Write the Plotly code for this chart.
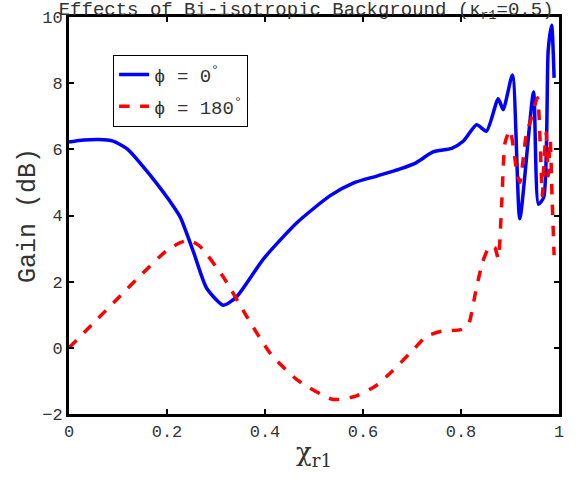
import plotly.graph_objs as go

# phi = 0 deg (solid blue)
x_phi0 = [0.0, 0.03, 0.06, 0.09, 0.12, 0.15, 0.18, 0.205, 0.227, 0.254, 0.281, 0.315,
          0.342, 0.397, 0.465, 0.533, 0.58, 0.63, 0.676, 0.709, 0.743, 0.781, 0.805,
          0.832, 0.852, 0.876, 0.886, 0.905, 0.92, 0.948, 0.958, 0.969, 0.978, 0.985, 0.99]
gain_phi0 = [6.22, 6.28, 6.3, 6.25, 6.0, 5.5, 4.95, 4.45, 3.95, 2.9, 1.8, 1.29,
             1.54, 2.69, 3.78, 4.6, 4.98, 5.2, 5.41, 5.6, 5.92, 6.03, 6.25,
             6.74, 6.55, 7.53, 7.2, 8.25, 3.9, 7.73, 4.34, 4.56, 9.0, 9.75, 8.16]

# phi = 180 deg (dashed red)
x_phi180 = [0.0, 0.05, 0.1, 0.15, 0.2, 0.227, 0.245, 0.267, 0.315, 0.363, 0.41, 0.465,
            0.539, 0.587, 0.628, 0.66, 0.7, 0.73, 0.76, 0.8, 0.815, 0.83, 0.844,
            0.859, 0.869, 0.876, 0.883, 0.89, 0.9, 0.914, 0.92, 0.933, 0.944, 0.956,
            0.962, 0.966, 0.97, 0.974, 0.978, 0.982, 0.986, 0.99]
gain_phi180 = [0.0, 0.75, 1.5, 2.25, 2.95, 3.18, 3.25, 3.07, 2.14, 0.94, -0.15, -0.96,
               -1.56, -1.45, -1.13, -0.7, -0.1, 0.35, 0.5, 0.55, 0.7, 1.7, 2.59,
               3.08, 3.03, 2.7, 4.34, 6.2, 6.58, 5.32, 5.0, 6.42, 6.96, 7.56,
               6.0, 4.6, 5.8, 6.5, 5.2, 6.3, 4.5, 2.8]

mono = "Liberation Mono"

fig = go.Figure()
fig.add_trace(go.Scatter(x=x_phi0, y=gain_phi0, mode="lines", name="ϕ = 0<sup>°</sup>",
                         legendgroup="a",
                         line=dict(color="#0000ff", width=3.5, shape="spline", smoothing=0.6)))
fig.add_trace(go.Scatter(x=x_phi180, y=gain_phi180, mode="lines", name="ϕ = 180<sup>°</sup>",
                         legendgroup="b",
                         line=dict(color="#ff0000", width=3.5, dash="dash", shape="spline", smoothing=0.6)))

axis_common = dict(showline=True, linecolor="black", linewidth=3, mirror="ticks",
                   ticks="inside", ticklen=5, tickwidth=2, tickcolor="black",
                   showgrid=False, zeroline=False, automargin=False,
                   tickfont=dict(family=mono, size=17, color="#333"))

fig.update_layout(
    width=587, height=477,
    margin=dict(l=69, r=28, t=17, b=63),
    plot_bgcolor="white", paper_bgcolor="white",
    title=dict(text="Effects of Bi-isotropic Background (κ<sub>r1</sub>=0.5)",
               x=0.1, xanchor="left", y=0.982, yanchor="middle",
               font=dict(family=mono, size=19, color="#333")),
    xaxis=dict(range=[0, 1], dtick=0.2, tickformat="~g",
               title=dict(text="χ<sub>r1</sub>", standoff=2,
                          font=dict(family="DejaVu Serif", size=26, color="#333")),
               **axis_common),
    yaxis=dict(range=[-2, 10], dtick=2,
               title=dict(text="Gain (dB)", standoff=0,
                          font=dict(family=mono, size=25, color="#333")),
               **axis_common),
    legend=dict(x=0.09, y=0.905, xanchor="left", yanchor="top",
                bordercolor="black", borderwidth=1, bgcolor="white",
                traceorder="grouped", tracegroupgap=4,
                font=dict(family=mono, size=19, color="#333")),
)

# drop the default page margin so the figure fills the window
fig.write_html("out.html", config={"displayModeBar": False},
               post_script="document.body.style.margin = '0';")
